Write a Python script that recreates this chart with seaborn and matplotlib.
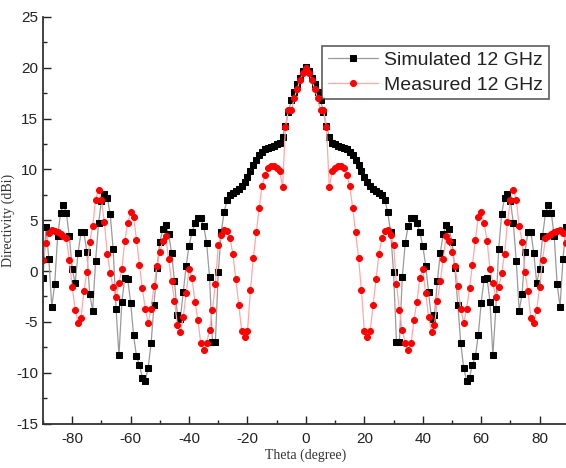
import matplotlib
matplotlib.use("Agg")
import matplotlib.pyplot as plt
import seaborn as sns
import pandas as pd
from matplotlib.ticker import MultipleLocator

theta = list(range(-90, 91))

simulated = [
    -0.7, 4.3, 1.2, -3.5, -1.3, 3.4, 5.7, 6.5, 5.7, 3.4,
    0.2, -1.2, 1.8, 3.8, 3.8, 1.9, -2.3, -3.9, 1.0, 4.7,
    6.9, 7.6, 7.2, 5.6, 2.2, -3.7, -8.3, -3.0, -0.7, -0.8,
    -3.1, -6.3, -8.4, -9.2, -10.5, -10.8, -9.5, -7.1, -3.3, 0.3,
    2.9, 4.1, 4.5, 3.6, 1.8, -1.0, -4.3, -4.7, -2.1, 0.5,
    2.5, 3.8, 4.7, 5.2, 5.2, 4.4, 2.8, -0.6, -7.0, -7.0,
    -0.1, 3.8, 5.8, 7.0, 7.5, 7.7, 7.9, 8.1, 8.4, 8.8,
    9.2, 9.8, 10.4, 10.9, 11.4, 11.7, 12.0, 12.1, 12.2, 12.3,
    12.5, 12.6, 13.2, 14.3, 15.6, 16.8, 17.6, 18.4, 19.0, 19.7,
    20.1,
    19.7, 19.0, 18.4, 17.6, 16.8, 15.6, 14.3, 13.2, 12.6, 12.5,
    12.3, 12.2, 12.1, 12.0, 11.7, 11.4, 10.9, 10.4, 9.8, 9.2,
    8.8, 8.4, 8.1, 7.9, 7.7, 7.5, 7.0, 5.8, 3.8, -0.1,
    -7.0, -7.0, -0.6, 2.8, 4.4, 5.2, 5.2, 4.7, 3.8, 2.5,
    0.5, -2.1, -4.7, -4.3, -1.0, 1.8, 3.6, 4.5, 4.1, 2.9,
    0.3, -3.3, -7.1, -9.5, -10.8, -10.5, -9.2, -8.4, -6.3, -3.1,
    -0.8, -0.7, -3.0, -8.3, -3.7, 2.2, 5.6, 7.2, 7.6, 6.9,
    4.7, 1.0, -3.9, -2.3, 1.9, 3.8, 3.8, 1.8, -1.2, 0.2,
    3.4, 5.7, 6.5, 5.7, 3.4, -1.3, -3.5, 1.2, 4.3, -0.7,
]

measured = [
    1.1, 2.8, 3.7, 4.0, 3.9, 3.8, 3.6, 3.4, 3.2, 1.1,
    -1.6, -3.8, -5.1, -4.6, -2.0, -0.1, 2.9, 4.4, 7.0, 8.0,
    7.0, 4.8, 1.7, -0.2, -1.6, -2.6, -1.2, 0.2, 3.0, 4.7,
    5.8, 5.3, 3.1, 0.6, -1.7, -3.7, -5.1, -3.7, -1.5, 0.5,
    1.9, 3.0, 3.4, 1.2, -1.0, -2.9, -5.3, -6.0, -4.5, -2.2,
    0.2, -0.7, -3.0, -4.8, -7.1, -7.8, -7.1, -5.8, -3.8, -1.3,
    2.6, 3.5, 4.0, 3.9, 3.2, 1.7, -0.8, -3.3, -5.9, -6.5,
    -5.9, -1.9, 1.3, 3.8, 6.2, 8.4, 9.4, 10.1, 10.3, 10.3,
    10.1, 9.8, 8.3, 14.2, 15.8, 15.8, 17.0, 17.9, 18.8, 19.5,
    20.0,
    19.5, 18.8, 17.9, 17.0, 15.8, 15.8, 14.2, 8.3, 9.8, 10.1,
    10.3, 10.3, 10.1, 9.4, 8.4, 6.2, 3.8, 1.3, -1.9, -5.9,
    -6.5, -5.9, -3.3, -0.8, 1.7, 3.2, 3.9, 4.0, 3.5, 2.6,
    -1.3, -3.8, -5.8, -7.1, -7.8, -7.1, -4.8, -3.0, -0.7, 0.2,
    -2.2, -4.5, -6.0, -5.3, -2.9, -1.0, 1.2, 3.4, 3.0, 1.9,
    0.5, -1.5, -3.7, -5.1, -3.7, -1.7, 0.6, 3.1, 5.3, 5.8,
    4.7, 3.0, 0.2, -1.2, -2.6, -1.6, -0.2, 1.7, 4.8, 7.0,
    8.0, 7.0, 4.4, 2.9, -0.1, -2.0, -4.6, -5.1, -3.8, -1.6,
    1.1, 3.2, 3.4, 3.6, 3.8, 3.9, 4.0, 3.7, 2.8, 1.1,
]

series_labels = ["Simulated 12 GHz", "Measured 12 GHz"]
x_label = "Theta (degree)"
y_label = "Directivity (dBi)"

sns.set_style("ticks")
plt.rcParams["font.family"] = ["Liberation Sans", "DejaVu Sans"]
plt.rcParams["axes.unicode_minus"] = False

fig = plt.figure(figsize=(5.66, 4.68), dpi=100)
ax = fig.add_axes([0.076, 0.095, 0.929, 0.869])

df_sim = pd.DataFrame({"theta": theta, "value": simulated})
df_meas = pd.DataFrame({"theta": theta, "value": measured})

sns.lineplot(data=df_sim, x="theta", y="value", ax=ax, sort=False, errorbar=None,
             color="#9a9a9a", linewidth=0.9, marker="s", markersize=3.8,
             markerfacecolor="black", markeredgecolor="black",
             label=series_labels[0])
sns.lineplot(data=df_meas, x="theta", y="value", ax=ax, sort=False, errorbar=None,
             color="#ffa8a8", linewidth=0.9, marker="o", markersize=4.3,
             markerfacecolor="#ff0000", markeredgecolor="#ff0000",
             label=series_labels[1])

ax.set_xlim(-90, 90)
ax.set_ylim(-15, 25)
ax.xaxis.set_major_locator(MultipleLocator(20))
ax.xaxis.set_minor_locator(MultipleLocator(10))
ax.yaxis.set_major_locator(MultipleLocator(5))
ax.yaxis.set_minor_locator(MultipleLocator(2.5))
ax.tick_params(which="both", direction="in", colors="#222222", labelsize=11,
               top=False, right=False)
ax.tick_params(which="major", length=6, width=1.0)
ax.tick_params(which="minor", length=3, width=1.0)
ax.tick_params(axis="x", which="major", pad=6)

for s in ["top", "right"]:
    ax.spines[s].set_visible(False)
for s in ["left", "bottom"]:
    ax.spines[s].set_color("#333333")
    ax.spines[s].set_linewidth(1.3)

ax.set_xlabel(x_label, family=["Liberation Serif", "DejaVu Serif"], fontsize=10,
              color="#333333", labelpad=2)
ax.set_ylabel(y_label, family=["Liberation Serif", "DejaVu Serif"], fontsize=10,
              color="#333333", labelpad=1)

leg = ax.legend(loc="upper right", bbox_to_anchor=(0.962, 0.929), borderaxespad=0,
                fancybox=False, frameon=True, edgecolor="#333333", fontsize=14,
                handlelength=2.6, handletextpad=0.3, borderpad=0.3,
                labelspacing=0.35, numpoints=1)
leg.get_frame().set_linewidth(1.2)
for t in leg.get_texts():
    t.set_color("#222222")

fig.savefig("out.png", dpi=100)
